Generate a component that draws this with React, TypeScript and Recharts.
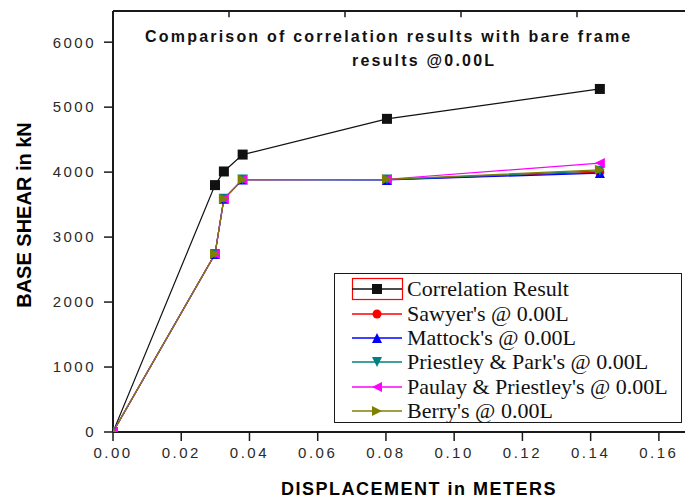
import React from 'react';
import { LineChart, Line, XAxis, YAxis, ReferenceLine } from 'recharts';

// displacement (m) at each load step, shared by every curve
const displacement = [0, 0.0299, 0.0325, 0.038, 0.0803, 0.1427];

// base shear (kN) per method
const correlation = [0, 3800, 4010, 4270, 4820, 5280];
const sawyer = [0, 2740, 3590, 3885, 3885, 4000];
const mattock = [0, 2740, 3590, 3885, 3880, 3985];
const priestleyPark = [0, 2740, 3590, 3885, 3885, 4020];
const paulayPriestley = [0, 2740, 3590, 3885, 3890, 4140];
const berry = [0, 2740, 3590, 3885, 3890, 4035];

const xTicks = [0, 0.02, 0.04, 0.06, 0.08, 0.1, 0.12, 0.14, 0.16];
const xTopTicks = [0.034, 0.068, 0.102, 0.136];
const yTicks = [0, 1000, 2000, 3000, 4000, 5000, 6000];
const Y_MAX = 6480;
const TOP_TICK_LEN = 95; // in kN, roughly 6px inward from the top frame

type Shape = 'square' | 'circle' | 'up' | 'down' | 'left' | 'right';

const SERIES: { key: string; name: string; color: string; shape: Shape; values: number[] }[] = [
  { key: 'corr', name: 'Correlation Result', color: '#111111', shape: 'square', values: correlation },
  { key: 'sawyer', name: "Sawyer's @ 0.00L", color: '#ff0000', shape: 'circle', values: sawyer },
  { key: 'mattock', name: "Mattock's @ 0.00L", color: '#0000ff', shape: 'up', values: mattock },
  { key: 'pp', name: "Priestley & Park's @ 0.00L", color: '#008080', shape: 'down', values: priestleyPark },
  { key: 'paulay', name: "Paulay & Priestley's @ 0.00L", color: '#ff00ff', shape: 'left', values: paulayPriestley },
  { key: 'berry', name: "Berry's @ 0.00L", color: '#808000', shape: 'right', values: berry },
];

const data = displacement.map((x, i) => {
  const row: Record<string, number> = { x };
  SERIES.forEach((s) => { row[s.key] = s.values[i]; });
  return row;
});

const AXIS = '#1a1a1a';
const SANS = 'Arial, "Liberation Sans", sans-serif';
const tickStyle = { fontFamily: SANS, fontSize: 15, fill: '#2a2a2a', letterSpacing: 2.5 };

function Marker({ shape, cx, cy, color }: { shape: Shape; cx: number; cy: number; color: string }) {
  const s = 5;
  switch (shape) {
    case 'square':
      return <rect x={cx - s} y={cy - s} width={s * 2} height={s * 2} fill={color} />;
    case 'circle':
      return <circle cx={cx} cy={cy} r={4.5} fill={color} />;
    case 'up':
      return <polygon points={`${cx},${cy - s} ${cx + s},${cy + s} ${cx - s},${cy + s}`} fill={color} />;
    case 'down':
      return <polygon points={`${cx - s},${cy - s} ${cx + s},${cy - s} ${cx},${cy + s}`} fill={color} />;
    case 'left':
      return <polygon points={`${cx - s},${cy} ${cx + s},${cy - s} ${cx + s},${cy + s}`} fill={color} />;
    default:
      return <polygon points={`${cx - s},${cy - s} ${cx + s},${cy} ${cx - s},${cy + s}`} fill={color} />;
  }
}

function LegendBox() {
  return (
    <div style={{ position: 'absolute', left: 334, top: 273, width: 348, height: 150, border: `1.5px solid ${AXIS}`, background: '#fff', boxSizing: 'border-box', paddingTop: 3 }}>
      {SERIES.map((s, i) => (
        <div key={s.key} style={{ display: 'flex', alignItems: 'center', height: 24.4 }}>
          <svg width={72} height={24} style={{ flex: 'none' }}>
            {i === 0 && <rect x={17.5} y={1.5} width={50} height={21} fill="none" stroke="#ff0000" strokeWidth={1.2} />}
            <line x1={17} y1={12} x2={67} y2={12} stroke={s.color} strokeWidth={1.3} />
            <Marker shape={s.shape} cx={42} cy={12} color={s.color} />
          </svg>
          <span style={{ fontFamily: '"Liberation Serif", "Times New Roman", serif', fontSize: 22, color: '#111', whiteSpace: 'nowrap' }}>
            {s.name}
          </span>
        </div>
      ))}
    </div>
  );
}

const titleStyle: React.CSSProperties = {
  position: 'absolute', fontFamily: SANS, fontSize: 16, fontWeight: 700, lineHeight: '24px',
  letterSpacing: 2.2, color: '#111', whiteSpace: 'nowrap',
};

export default function App() {
  return (
    <div style={{ position: 'absolute', left: 0, top: 0, width: 685, height: 500, overflow: 'hidden', background: '#fff' }}>
      <LineChart width={720} height={500} data={data} margin={{ top: 11, right: 27, left: 0, bottom: 0 }}>
        <XAxis
          dataKey="x"
          type="number"
          domain={[0, 0.17]}
          ticks={xTicks}
          tickFormatter={(v: number) => v.toFixed(2)}
          allowDataOverflow
          height={68}
          tickSize={9}
          tickMargin={6}
          tick={tickStyle}
          axisLine={{ stroke: AXIS, strokeWidth: 2 }}
          tickLine={{ stroke: AXIS, strokeWidth: 1.5 }}
          label={{
            content: () => (
              <text x={419} y={489} textAnchor="middle" dominantBaseline="central"
                style={{ fontFamily: SANS, fontSize: 18, fontWeight: 700, letterSpacing: 1.5, fill: '#000' }}>
                DISPLACEMENT in METERS
              </text>
            ),
          }}
        />
        <YAxis
          type="number"
          domain={[0, Y_MAX]}
          ticks={yTicks}
          allowDataOverflow
          width={113}
          tickSize={9}
          tickMargin={8}
          tick={tickStyle}
          axisLine={{ stroke: AXIS, strokeWidth: 2 }}
          tickLine={{ stroke: AXIS, strokeWidth: 1.5 }}
          label={{
            content: () => (
              <text x={24} y={215} transform="rotate(-90 24 215)" textAnchor="middle" dominantBaseline="central"
                style={{ fontFamily: SANS, fontSize: 20, fontWeight: 700, fill: '#000' }}>
                BASE SHEAR in kN
              </text>
            ),
          }}
        />
        {/* top frame edge and its short inward ticks */}
        <ReferenceLine y={Y_MAX} stroke={AXIS} strokeWidth={2} />
        {xTopTicks.map((t) => (
          <ReferenceLine
            key={t}
            segment={[{ x: t, y: Y_MAX }, { x: t, y: Y_MAX - TOP_TICK_LEN }]}
            stroke={AXIS}
            strokeWidth={1.5}
          />
        ))}
        {SERIES.map((s) => (
          <Line
            key={s.key}
            dataKey={s.key}
            name={s.name}
            stroke={s.color}
            strokeWidth={1.2}
            isAnimationActive={false}
            dot={(p: any) => <Marker key={`${s.key}-${p.index}`} shape={s.shape} cx={p.cx} cy={p.cy} color={s.color} />}
            activeDot={false}
          />
        ))}
      </LineChart>
      <div style={{ ...titleStyle, left: 145, top: 25 }}>Comparison of correlation results with bare frame</div>
      <div style={{ ...titleStyle, left: 352, top: 49 }}>results @0.00L</div>
      <LegendBox />
    </div>
  );
}
